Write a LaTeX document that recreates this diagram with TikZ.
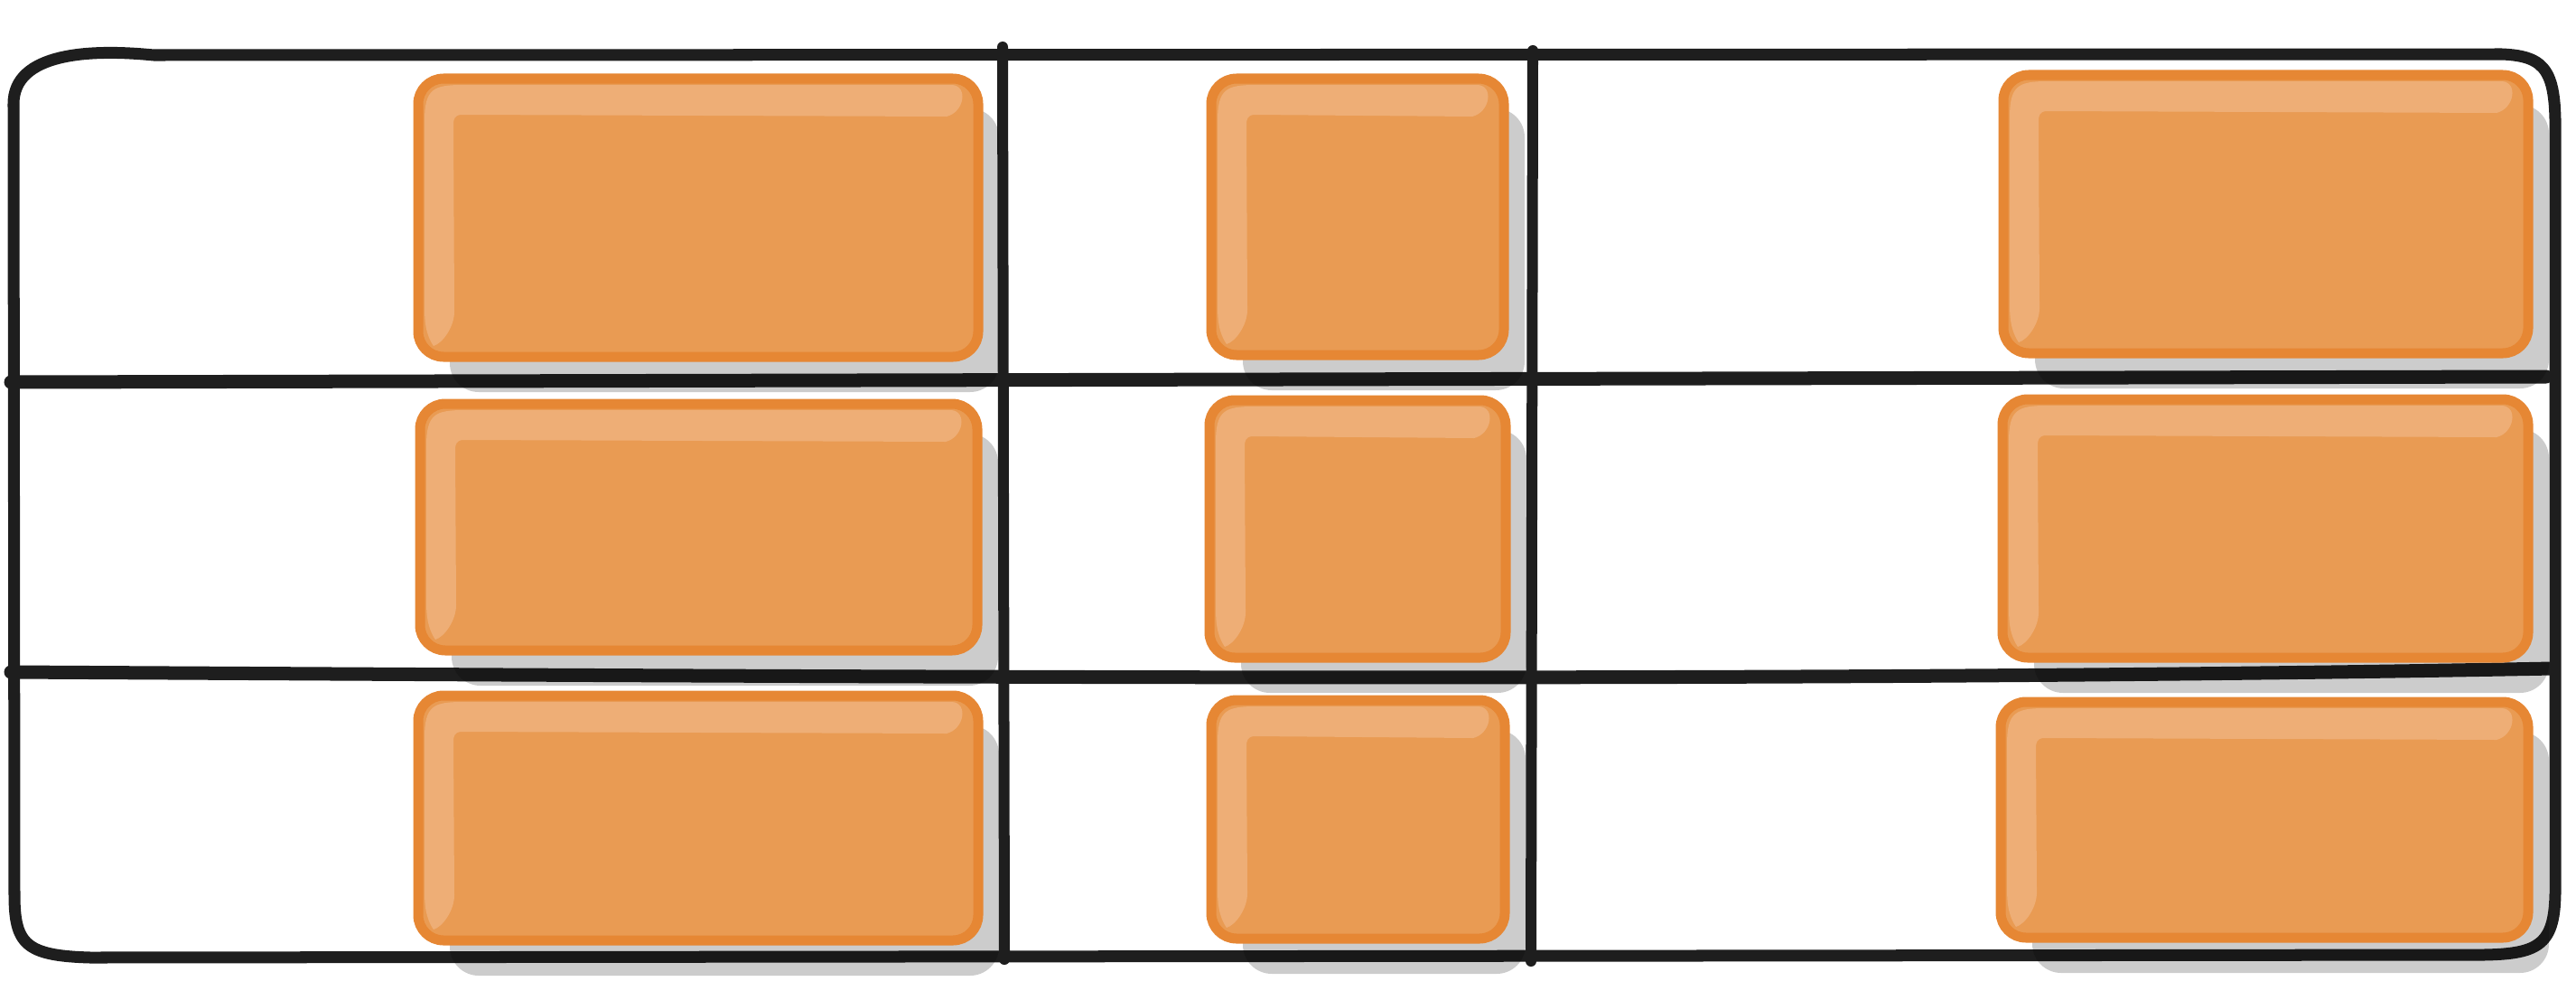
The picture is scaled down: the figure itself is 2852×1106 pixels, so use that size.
\documentclass[tikz,border=0pt]{standalone}
\usetikzlibrary{fit}
\definecolor{ink}{HTML}{1E1E1E}
\definecolor{obord}{HTML}{E68734}
\definecolor{ofill}{HTML}{E99B53}
\definecolor{ohl}{HTML}{EEAE76}
\tikzset{
  frameline/.style={draw=ink, line width=0.13cm, line cap=round, line join=round},
  rowline/.style={draw=ink, line width=0.15cm, line cap=round},
  colline/.style={draw=ink, line width=0.12cm, line cap=round},
  boxshadow/.style={fill=black, fill opacity=0.2, rounded corners=0.32cm},
  gbox/.style={draw=obord, fill=ofill, line width=0.11cm, rounded corners=0.28cm, inner sep=0pt},
  gloss/.style={fill=ohl},
}
\newcommand\glossybox[5]{%
  \fill[boxshadow] (#2+40,#3+38) rectangle (#4+18,#5+34);
  \node[gbox, fit={(#2+5,#3+5) (#4-5,#5-5)}] (#1) {};
  \fill[gloss] (#2+12,#3+52) .. controls (#2+12,#3+16) and (#2+22,#3+12) .. (#2+55,#3+12)
    -- (#4-34,#3+12) .. controls (#4-16,#3+13) and (#4-20,#3+42) .. (#4-40,#3+47)
    -- (#2+52,#3+45) .. controls (#2+45,#3+46) and (#2+44,#3+50) .. (#2+44,#3+56)
    -- (#2+45,#5-55) .. controls (#2+45,#5-38) and (#2+32,#5-20) .. (#2+22,#5-17)
    .. controls (#2+13,#5-30) and (#2+12,#5-45) .. (#2+12,#5-60) -- cycle;
}
\begin{document}
\begin{tikzpicture}[x=0.01cm, y=-0.01cm]
\useasboundingbox (0,0) rectangle (2852,1106);
% outer frame
\draw[frameline] (16,990) -- (15,115) .. controls (15,58) and (100,54) .. (170,61)
  -- (2770,60) .. controls (2820,62) and (2830,80) .. (2829,150)
  -- (2829,985) .. controls (2829,1045) and (2812,1056) .. (2750,1057)
  -- (100,1060) .. controls (28,1058) and (16,1045) .. (16,990) -- cycle;
% row separators
\draw[rowline] (12,423) -- (2819,417);
\draw[rowline] (12,744) .. controls (900,749) and (2000,756) .. (2826,740);
% column separators
\draw[colline] (1110,52) -- (1112,1062);
\draw[colline] (1697,56) -- (1695,1064);
% boxes
\glossybox{c1r1}{458}{82}{1088}{400}
\glossybox{c1r2}{460}{442}{1087}{725}
\glossybox{c1r3}{458}{765}{1088}{1046}
\glossybox{c2r1}{1336}{82}{1670}{398}
\glossybox{c2r2}{1334}{438}{1672}{733}
\glossybox{c2r3}{1336}{770}{1671}{1044}
\glossybox{c3r1}{2213}{78}{2804}{396}
\glossybox{c3r2}{2212}{437}{2804}{733}
\glossybox{c3r3}{2210}{772}{2804}{1043}
\end{tikzpicture}
\end{document}
